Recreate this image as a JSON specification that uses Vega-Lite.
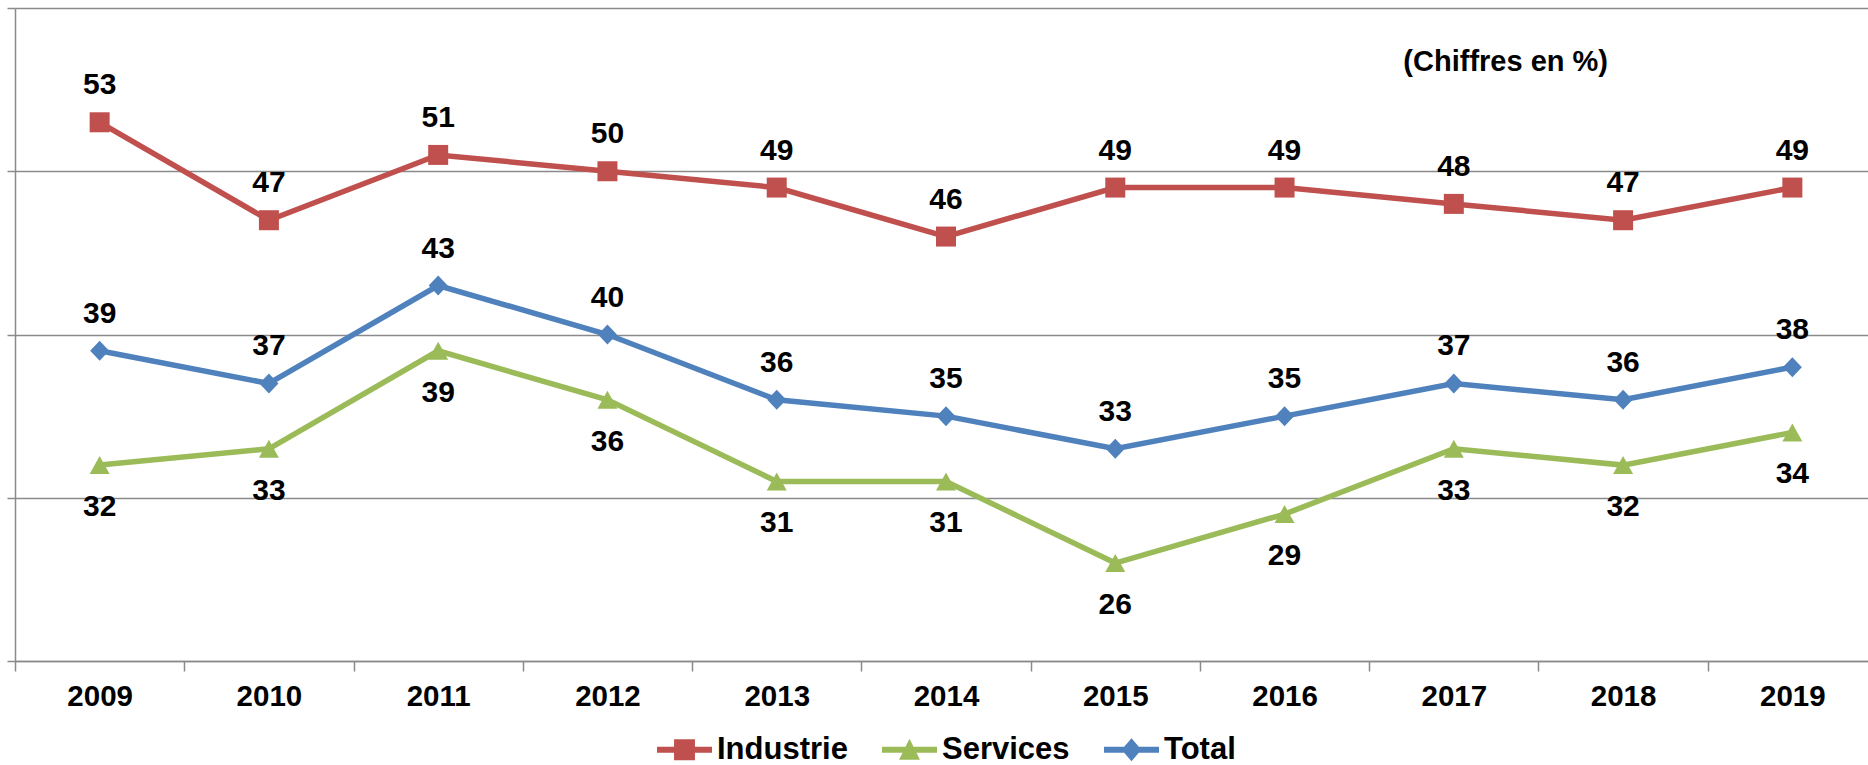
{
  "$schema": "https://vega.github.io/schema/vega-lite/v6.json",
  "width": 1853,
  "height": 653,
  "autosize": {"type": "none"},
  "padding": {"left": 15, "top": 8, "right": 0, "bottom": 104},
  "background": "white",
  "config": {"view": {"stroke": null}},
  "title": {"text": "(Chiffres en %)", "anchor": "end", "orient": "top", "frame": "group", "font": "Liberation Sans", "fontSize": 29, "fontWeight": "bold", "color": "black", "baseline": "middle", "offset": 0, "dx": -260, "dy": 84},
  "data": {"values": [
    {"year": "2009", "series": "Industrie", "value": 53},
    {"year": "2010", "series": "Industrie", "value": 47},
    {"year": "2011", "series": "Industrie", "value": 51},
    {"year": "2012", "series": "Industrie", "value": 50},
    {"year": "2013", "series": "Industrie", "value": 49},
    {"year": "2014", "series": "Industrie", "value": 46},
    {"year": "2015", "series": "Industrie", "value": 49},
    {"year": "2016", "series": "Industrie", "value": 49},
    {"year": "2017", "series": "Industrie", "value": 48},
    {"year": "2018", "series": "Industrie", "value": 47},
    {"year": "2019", "series": "Industrie", "value": 49},
    {"year": "2009", "series": "Services", "value": 32},
    {"year": "2010", "series": "Services", "value": 33},
    {"year": "2011", "series": "Services", "value": 39},
    {"year": "2012", "series": "Services", "value": 36},
    {"year": "2013", "series": "Services", "value": 31},
    {"year": "2014", "series": "Services", "value": 31},
    {"year": "2015", "series": "Services", "value": 26},
    {"year": "2016", "series": "Services", "value": 29},
    {"year": "2017", "series": "Services", "value": 33},
    {"year": "2018", "series": "Services", "value": 32},
    {"year": "2019", "series": "Services", "value": 34},
    {"year": "2009", "series": "Total", "value": 39},
    {"year": "2010", "series": "Total", "value": 37},
    {"year": "2011", "series": "Total", "value": 43},
    {"year": "2012", "series": "Total", "value": 40},
    {"year": "2013", "series": "Total", "value": 36},
    {"year": "2014", "series": "Total", "value": 35},
    {"year": "2015", "series": "Total", "value": 33},
    {"year": "2016", "series": "Total", "value": 35},
    {"year": "2017", "series": "Total", "value": 37},
    {"year": "2018", "series": "Total", "value": 36},
    {"year": "2019", "series": "Total", "value": 38}
  ]},
  "encoding": {
    "x": {"field": "year", "type": "ordinal", "scale": {"type": "band", "range": [0, 1862], "paddingInner": 0, "paddingOuter": 0},
      "axis": {"title": null, "domainColor": "#8a8a8a", "domainWidth": 1.5, "tickColor": "#8a8a8a", "tickWidth": 1.5, "tickSize": 10, "tickBand": "extent", "labelFont": "Liberation Sans", "labelFontSize": 29.5, "labelFontWeight": "bold", "labelColor": "black", "labelPadding": 11, "labelAngle": 0, "grid": false}},
    "y": {"field": "value", "type": "quantitative", "scale": {"domain": [20, 60], "nice": false, "zero": false},
      "axis": {"title": null, "labels": false, "values": [20, 30, 40, 50, 60], "grid": true, "gridColor": "#8a8a8a", "gridWidth": 1.5, "domainColor": "#8a8a8a", "domainWidth": 1.5, "tickColor": "#8a8a8a", "tickSize": 8, "tickWidth": 1.5}}
  },
  "layer": [
    {
      "mark": {"type": "line", "strokeWidth": 5.5},
      "encoding": {
        "color": {"field": "series", "type": "nominal",
          "scale": {"domain": ["Industrie", "Services", "Total"], "range": ["#C0504D", "#9BBB59", "#4F81BD"]},
          "legend": {
            "orient": "none", "legendX": 642, "legendY": 714, "direction": "horizontal", "title": null,
            "symbolSize": 3025, "symbolStrokeWidth": 0,
            "labelFont": "Liberation Sans", "labelFontSize": 31, "labelFontWeight": "bold", "labelColor": "black",
            "labelOffset": 5, "columnPadding": 34, "padding": 0,
            "encode": {"symbols": {"update": {
              "shape": {"signal": "datum.value === 'Industrie' ? 'M-1,-0.11H1V0.11H-1Z M-0.38,-0.38H0.38V0.38H-0.38Z' : datum.value === 'Services' ? 'M-1,-0.11H1V0.11H-1Z M0,-0.4L0.38,0.36H-0.38Z' : 'M-1,-0.11H1V0.11H-1Z M0,-0.42L0.36,0L0,0.42L-0.36,0Z'"},
              "fill": {"scale": "color", "field": "value"},
              "stroke": {"value": "transparent"},
              "opacity": {"value": 1}
            }}}
          }}
      }
    },
    {
      "transform": [{"filter": "datum.series === 'Industrie'"}],
      "mark": {"type": "point", "filled": true, "opacity": 1, "size": 400, "shape": "M-1,-1H1V1H-1Z"},
      "encoding": {"color": {"field": "series", "type": "nominal"}}
    },
    {
      "transform": [{"filter": "datum.series === 'Services'"}],
      "mark": {"type": "point", "filled": true, "opacity": 1, "size": 400, "shape": "M0,-0.9L1,0.9H-1Z"},
      "encoding": {"color": {"field": "series", "type": "nominal"}}
    },
    {
      "transform": [{"filter": "datum.series === 'Total'"}],
      "mark": {"type": "point", "filled": true, "opacity": 1, "size": 400, "shape": "M0,-1L0.95,0L0,1L-0.95,0Z"},
      "encoding": {"color": {"field": "series", "type": "nominal"}}
    },
    {
      "transform": [{"filter": "datum.series !== 'Services'"}],
      "mark": {"type": "text", "dy": -37, "font": "Liberation Sans", "fontSize": 30, "fontWeight": "bold", "color": "black", "baseline": "middle"},
      "encoding": {"text": {"field": "value", "type": "quantitative"}}
    },
    {
      "transform": [{"filter": "datum.series === 'Services'"}],
      "mark": {"type": "text", "dy": 42, "font": "Liberation Sans", "fontSize": 30, "fontWeight": "bold", "color": "black", "baseline": "middle"},
      "encoding": {"text": {"field": "value", "type": "quantitative"}}
    }
  ]
}
